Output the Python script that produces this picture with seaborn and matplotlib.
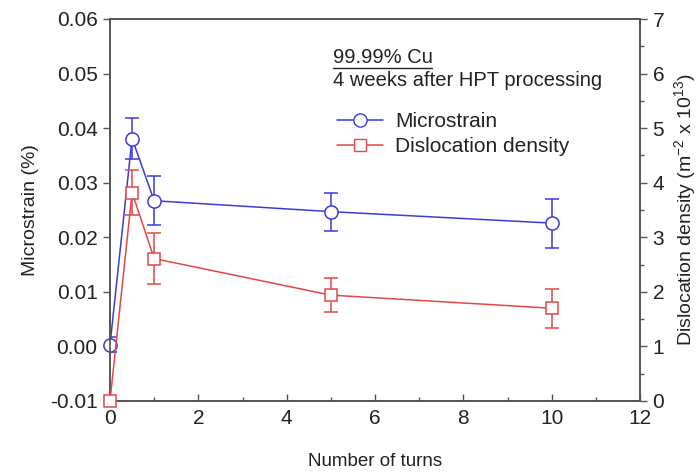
import matplotlib
matplotlib.use("Agg")
import matplotlib.pyplot as plt
from matplotlib.lines import Line2D
from matplotlib.ticker import MultipleLocator
import seaborn as sns
import pandas as pd

turns = [0, 0.5, 1, 5, 10]
microstrain = [0.0003, 0.0381, 0.0267, 0.0247, 0.0226]
microstrain_err = [0.0014, 0.0037, 0.0045, 0.0035, 0.0045]
dislocation = [0.0, 3.82, 2.61, 1.94, 1.70]
dislocation_err = [0.0, 0.41, 0.47, 0.31, 0.36]

sns.set_style("ticks")
plt.rcParams['font.family'] = ['Liberation Sans', 'DejaVu Sans']
plt.rcParams['mathtext.fontset'] = 'custom'
plt.rcParams['mathtext.rm'] = 'Liberation Sans'
plt.rcParams['mathtext.it'] = 'Liberation Sans'

BLUE = '#3b3bdc'
RED = '#e04848'
SPINE = '#555555'
TXT = '#222222'

fig = plt.figure(figsize=(6.99, 4.74), dpi=100)
ax = fig.add_axes([110/699, 73/474, 530/699, 382/474])
ax2 = ax.twinx()

df_m = pd.DataFrame({'turns': turns, 'val': microstrain})
df_d = pd.DataFrame({'turns': turns, 'val': dislocation})

ax.errorbar(turns, microstrain, yerr=microstrain_err, fmt='none', ecolor=BLUE,
            elinewidth=1.1, capsize=5, capthick=1.1, zorder=2)
sns.lineplot(data=df_m, x='turns', y='val', ax=ax, color=BLUE, marker='o',
             markersize=9.5, markerfacecolor='white', markeredgecolor=BLUE,
             markeredgewidth=1.1, linewidth=1.1, zorder=3, clip_on=False)

ax2.errorbar(turns, dislocation, yerr=dislocation_err, fmt='none', ecolor=RED,
             elinewidth=1.1, capsize=5, capthick=1.1, zorder=2)
sns.lineplot(data=df_d, x='turns', y='val', ax=ax2, color=RED, marker='s',
             markersize=8, markerfacecolor='white', markeredgecolor=RED,
             markeredgewidth=1.1, linewidth=1.1, zorder=3, clip_on=False)

ax.set_xlim(0, 12)
ax.set_ylim(-0.01, 0.06)
ax2.set_ylim(0, 7)
ax.xaxis.set_major_locator(MultipleLocator(2))
ax.xaxis.set_minor_locator(MultipleLocator(1))
ax.yaxis.set_major_locator(MultipleLocator(0.01))
ax2.yaxis.set_major_locator(MultipleLocator(1))
ax2.yaxis.set_minor_locator(MultipleLocator(0.5))
ax.yaxis.set_major_formatter(matplotlib.ticker.FormatStrFormatter('%.2f'))

for a in (ax, ax2):
    for s in a.spines.values():
        s.set_color(SPINE)
        s.set_linewidth(1.2)

ax.tick_params(axis='x', which='major', direction='in', length=5, width=1, color=SPINE,
               labelsize=15, pad=6, top=False, labelcolor=TXT)
ax.tick_params(axis='x', which='minor', direction='in', length=3, width=1, color=SPINE, top=False)
ax.tick_params(axis='y', which='major', direction='out', length=5, width=1, color=SPINE,
               labelsize=15, pad=4, labelcolor=TXT)
ax2.tick_params(axis='y', which='major', direction='out', length=5, width=1, color=SPINE,
                labelsize=15, pad=4, labelcolor=TXT)
ax2.tick_params(axis='y', which='minor', direction='out', length=3, width=1, color=SPINE)

ax.set_xlabel('Number of turns', fontsize=13.5, labelpad=18, color=TXT)
ax.set_ylabel('Microstrain (%)', fontsize=14, labelpad=8, color=TXT)
ax2.set_ylabel('Dislocation density (m$^{-2}$ x 10$^{13}$)', fontsize=14, labelpad=6, color=TXT)

ax.text(0.420, 0.885, '99.99% Cu', transform=ax.transAxes, fontsize=14.5,
        ha='left', va='baseline', color=TXT)
ax.text(0.420, 0.825, '4 weeks after HPT processing', transform=ax.transAxes, fontsize=14.5,
        ha='left', va='baseline', color=TXT)
fig.canvas.draw()
t = ax.texts[0]
bb = t.get_window_extent(fig.canvas.get_renderer())
x0, x1 = bb.x0 / fig.bbox.width, bb.x1 / fig.bbox.width
yl = (bb.y0 - 1) / fig.bbox.height
fig.add_artist(Line2D([x0, x1], [yl, yl], color=TXT, linewidth=1.0))

handles = [
    Line2D([], [], color=BLUE, marker='o', markersize=9.5, markerfacecolor='white',
           markeredgecolor=BLUE, linewidth=1.1),
    Line2D([], [], color=RED, marker='s', markersize=8, markerfacecolor='white',
           markeredgecolor=RED, linewidth=1.1),
]
leg = ax2.legend(handles, ['Microstrain', 'Dislocation density'], loc='upper left',
                 bbox_to_anchor=(0.428, 0.757), frameon=False, fontsize=15,
                 handlelength=2.2, handletextpad=0.6, labelspacing=0.3, borderaxespad=0,
                 borderpad=0)
for txt in leg.get_texts():
    txt.set_color(TXT)

fig.savefig('out.png', dpi=100)
